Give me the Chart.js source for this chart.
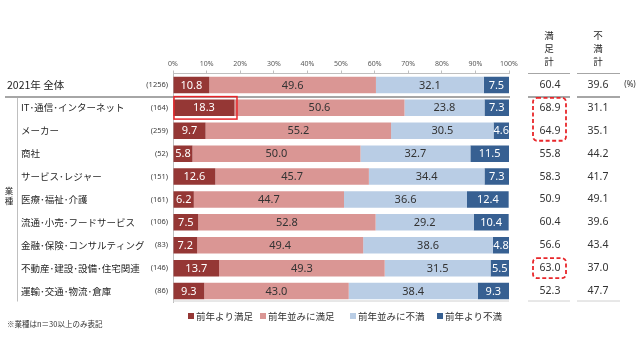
<!DOCTYPE html>
<html><head><meta charset="utf-8">
<script src="https://cdn.jsdelivr.net/npm/chart.js@4/dist/chart.umd.min.js"></script>
<style>html,body{margin:0;padding:0;background:#fff}#wrap{width:640px;height:360px;position:relative}</style>
</head><body><div id="wrap"><canvas id="c" width="640" height="360"></canvas></div>
<script>
const categories = ['2021年 全体','IT･通信･インターネット','メーカー','商社','サービス･レジャー','医療･福祉･介護','流通･小売･フードサービス','金融･保険･コンサルティング','不動産･建設･設備･住宅関連','運輸･交通･物流･倉庫'];
const sampleSizes = ['(1256)','(164)','(259)','(52)','(151)','(161)','(106)','(83)','(146)','(86)'];
const seriesNames = ['前年より満足','前年並みに満足','前年並みに不満','前年より不満'];
const moreSatisfied    = [10.8, 18.3,  9.7,  5.8, 12.6,  6.2,  7.5,  7.2, 13.7,  9.3];
const sameSatisfied    = [49.6, 50.6, 55.2, 50.0, 45.7, 44.7, 52.8, 49.4, 49.3, 43.0];
const sameDissatisfied = [32.1, 23.8, 30.5, 32.7, 34.4, 36.6, 29.2, 38.6, 31.5, 38.4];
const moreDissatisfied = [ 7.5,  7.3,  4.6, 11.5,  7.3, 12.4, 10.4,  4.8,  5.5,  9.3];
const satisfiedTotal    = ['60.4','68.9','64.9','55.8','58.3','50.9','60.4','56.6','63.0','52.3'];
const dissatisfiedTotal = ['39.6','31.1','35.1','44.2','41.7','49.1','39.6','43.4','37.0','47.7'];
const xTickValues = [0,10,20,30,40,50,60,70,80,90,100];
const highlightedTotals = [[1,2],[8,8]];
const highlightedSegment = [0,1];

const colors = ['#953735','#da9694','#b9cde5','#376092'];
const textColors = ['#ffffff','#333333','#333333','#ffffff'];
const seriesValues = [moreSatisfied, sameSatisfied, sameDissatisfied, moreDissatisfied];
const JP = '"Noto Sans CJK JP", "Noto Sans", sans-serif';
const NUM = '"Noto Sans", "DejaVu Sans", sans-serif';

const overlay = {
  id:'overlay',
  afterDatasetsDraw(chart){
    const ctx = chart.ctx, ca = chart.chartArea, ys = chart.scales.y;
    ctx.save();
    // value labels inside segments
    chart.data.datasets.forEach((ds, di) => {
      chart.getDatasetMeta(di).data.forEach((el, i) => {
        const v = ds.data[i];
        ctx.fillStyle = textColors[di];
        ctx.font = '11px ' + NUM;
        ctx.textAlign = 'center'; ctx.textBaseline = 'middle';
        ctx.fillText(v.toFixed(1), (el.x + el.base) / 2, el.y + 0.5);
      });
    });
    // category labels, sample sizes
    categories.forEach((c, i) => {
      const y = ys.getPixelForValue(i);
      ctx.fillStyle = '#262626';
      ctx.textBaseline = 'middle';
      ctx.textAlign = 'left';
      ctx.font = (i === 0 ? '10.5px ' : '9.5px ') + JP;
      ctx.fillText(c, i === 0 ? 7 : 21, y);
      ctx.textAlign = 'right';
      ctx.font = '7.5px ' + NUM;
      ctx.fillStyle = '#404040';
      ctx.fillText(sampleSizes[i], ca.left - 5, y);
      ctx.font = '10.5px ' + NUM;
      ctx.fillStyle = '#333333';
      ctx.textAlign = 'center';
      ctx.fillText(satisfiedTotal[i], 550, y);
      ctx.fillText(dissatisfiedTotal[i], 598, y);
    });
    const y0 = ys.getPixelForValue(0), y1 = ys.getPixelForValue(1);
    const sep = (y0 + y1) / 2 + 0.5;
    ctx.fillStyle = '#333333'; ctx.font = '8px ' + NUM; ctx.textAlign = 'center';
    ctx.fillText('(%)', 630, y0);
    // column headers
    ctx.font = '9.5px ' + JP; ctx.fillStyle = '#262626';
    ['満','足','計'].forEach((t, k) => ctx.fillText(t, 549, 35 + k * 13));
    ['不','満','計'].forEach((t, k) => ctx.fillText(t, 598, 35 + k * 13));
    // header underline
    ctx.strokeStyle = '#a6a6a6'; ctx.lineWidth = 1;
    ctx.beginPath(); ctx.moveTo(528, 73.5); ctx.lineTo(570, 73.5); ctx.moveTo(577, 73.5); ctx.lineTo(620, 73.5); ctx.stroke();
    // separator under total
    ctx.strokeStyle = '#a6a6a6'; ctx.lineWidth = 2;
    ctx.beginPath(); ctx.moveTo(5, sep); ctx.lineTo(ca.right + 1, sep);
    ctx.moveTo(528, sep); ctx.lineTo(570, sep); ctx.moveTo(577, sep); ctx.lineTo(620, sep); ctx.stroke();
    // bottom line
    ctx.strokeStyle = '#d0d0d0'; ctx.lineWidth = 1;
    ctx.beginPath(); ctx.moveTo(ca.left, ca.bottom - 1.5); ctx.lineTo(ca.right, ca.bottom - 1.5);
    ctx.moveTo(528, ca.bottom - 1.5); ctx.lineTo(570, ca.bottom - 1.5); ctx.moveTo(577, ca.bottom - 1.5); ctx.lineTo(620, ca.bottom - 1.5); ctx.stroke();
    // group bracket
    ctx.strokeStyle = '#bfbfbf';
    ctx.beginPath(); ctx.moveTo(17.5, sep + 1); ctx.lineTo(17.5, ca.bottom - 1); ctx.stroke();
    ctx.font = '8.5px ' + JP; ctx.fillStyle = '#262626'; ctx.textAlign = 'center';
    ctx.fillText('業', 9, 191); ctx.fillText('種', 9, 201);
    // highlight solid box
    const hEl = chart.getDatasetMeta(highlightedSegment[0]).data[highlightedSegment[1]];
    ctx.strokeStyle = '#e8262a'; ctx.lineWidth = 1.5;
    ctx.strokeRect(hEl.base + 0.5, hEl.y - hEl.height / 2 - 3, hEl.x - hEl.base + 2, hEl.height + 6);
    // dashed rounded boxes
    ctx.setLineDash([4, 2.5]); ctx.lineWidth = 1.8; ctx.strokeStyle = '#e8262a';
    highlightedTotals.forEach(([a, b]) => {
      const ta = ys.getPixelForValue(a) - 10, tb = ys.getPixelForValue(b) + 10;
      ctx.beginPath();
      ctx.roundRect(533, ta, 33, tb - ta, 4);
      ctx.stroke();
    });
    ctx.setLineDash([]);
    // legend
    const lx = [188, 260, 350, 437];
    chart.data.datasets.forEach((ds, di) => {
      ctx.fillStyle = ds.backgroundColor;
      ctx.fillRect(lx[di], 313, 6, 6);
      ctx.fillStyle = '#333333'; ctx.textAlign = 'left'; ctx.font = '9.5px ' + JP;
      ctx.fillText(ds.label, lx[di] + 8, 316.5);
    });
    // footnote
    ctx.font = '7.5px ' + JP; ctx.fillStyle = '#333333'; ctx.textAlign = 'left';
    ctx.fillText('※業種はn＝30以上のみ表記', 7, 324);
    ctx.restore();
  }
};

new Chart(document.getElementById('c'), {
  type: 'bar',
  data: {
    labels: categories,
    datasets: seriesNames.map((n, i) => ({
      label: n, data: seriesValues[i], backgroundColor: colors[i],
      borderWidth: 0, barPercentage: 0.72, categoryPercentage: 1
    }))
  },
  options: {
    responsive: false, animation: false, devicePixelRatio: 1,
    indexAxis: 'y',
    layout: { padding: { left: 173, right: 131, top: 53.5, bottom: 57.5 } },
    plugins: { legend: { display: false }, tooltip: { enabled: false } },
    scales: {
      x: {
        position: 'top', stacked: true, min: 0, max: 100,
        afterBuildTicks: s => { s.ticks = xTickValues.map(v => ({ value: v })); },
        ticks: { callback: v => v + '%', font: { size: 7, family: NUM }, color: '#595959', padding: 2, maxRotation: 0, autoSkip: false },
        grid: { display: true, drawOnChartArea: false, drawTicks: true, tickLength: 3, color: '#bfbfbf' },
        border: { display: true, color: '#bfbfbf' },
        afterFit: s => { s.height = 20; }
      },
      y: {
        stacked: true,
        ticks: { display: false },
        grid: { display: false, drawTicks: false },
        border: { display: true, color: '#bfbfbf' },
        afterFit: s => { s.width = 0; }
      }
    }
  },
  plugins: [overlay]
});
</script></body></html>
